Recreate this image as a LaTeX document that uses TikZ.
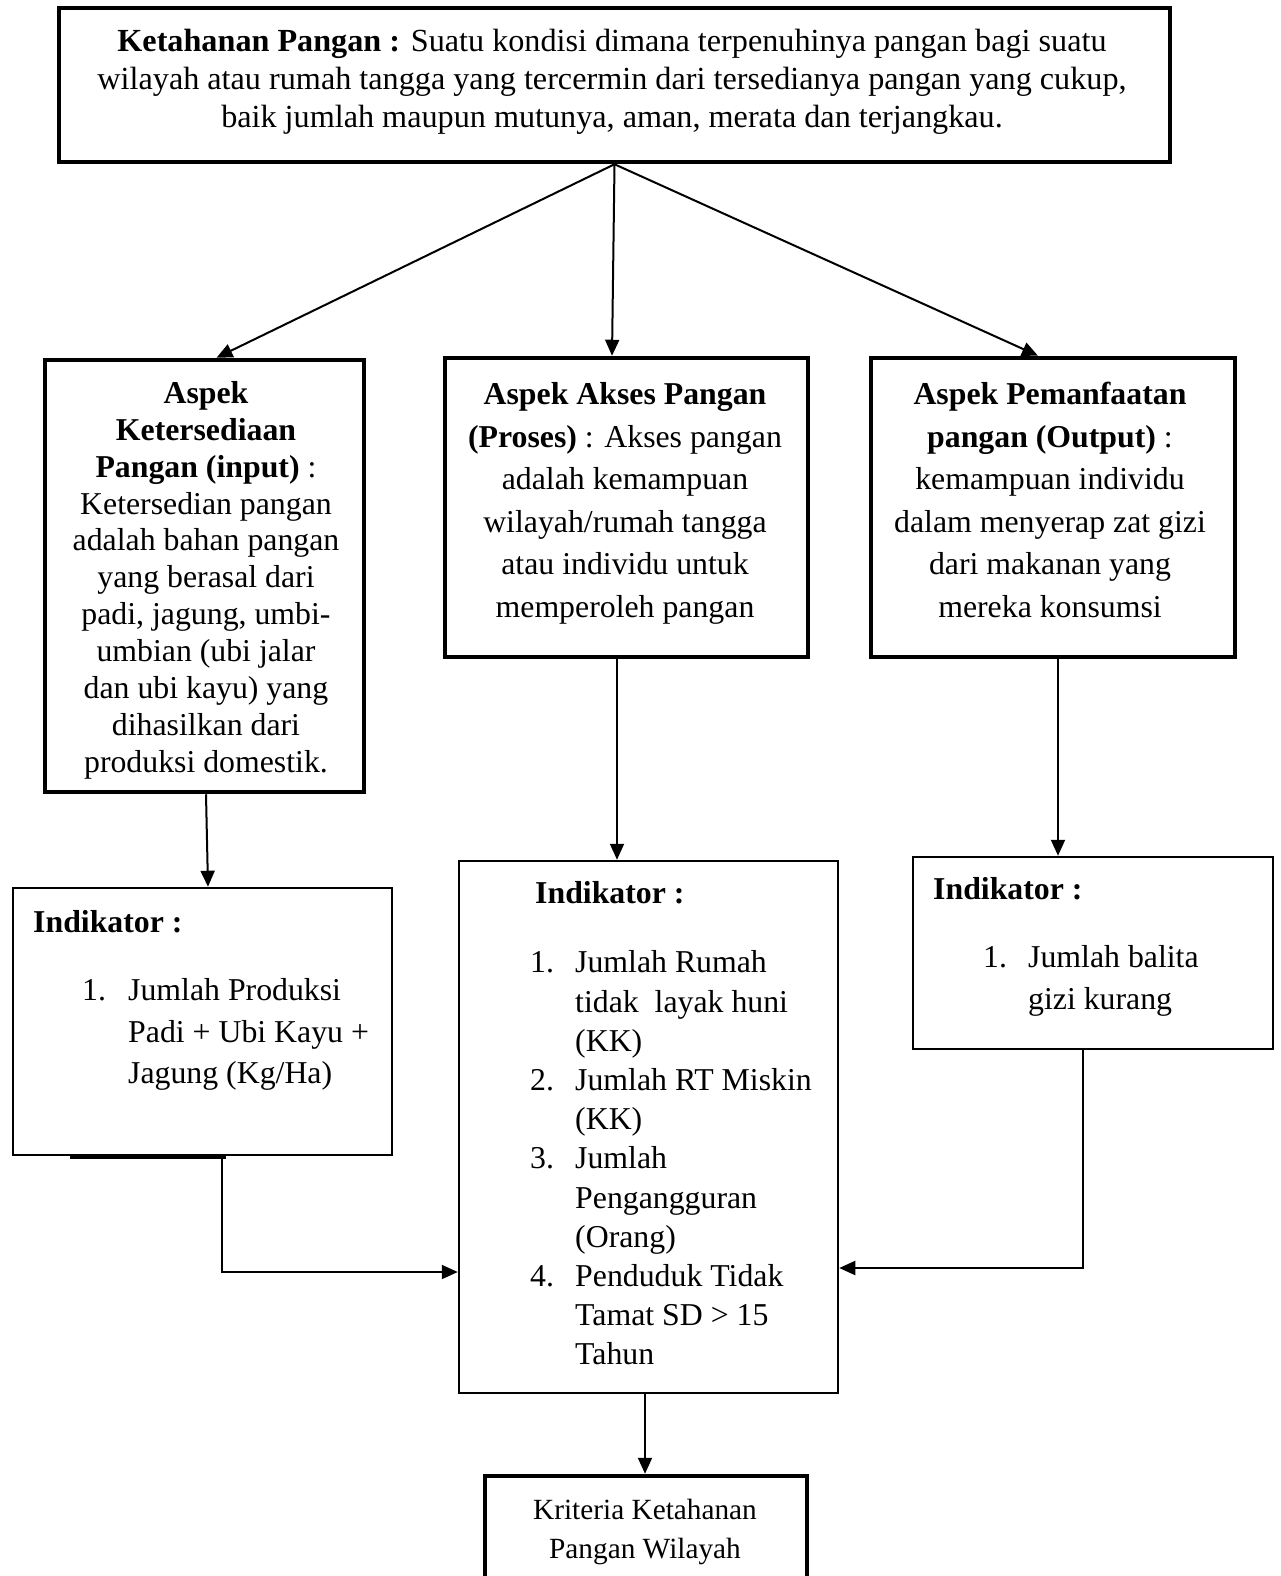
\documentclass[tikz,border=0pt]{standalone}
\usepackage{fontspec}
\setmainfont{Liberation Serif}
\usetikzlibrary{arrows.meta,calc}
\begin{document}
\begin{tikzpicture}[x=1pt,y=-1pt,
  thickbox/.style={draw,line width=4.5pt,rectangle,inner sep=0pt},
  thinbox/.style={draw,line width=2.5pt,rectangle,inner sep=0pt},
  txt/.style={inner sep=0pt,font=\fontsize{31.8}{37}\selectfont,align=center},
  lst/.style={inner sep=0pt,align=left,anchor=west},
  arr/.style={line width=2pt,-{Triangle[length=16pt,width=14pt]}}]
\path[use as bounding box] (0,0) rectangle (1280,1576);
\clip (0,0) rectangle (1280,1576);

% boxes
\node[thickbox,minimum width=1111pt,minimum height=154pt] (top) at (614.5,85) {};
\node[thickbox,minimum width=319pt,minimum height=432pt] (a1) at (204.5,576) {};
\node[thickbox,minimum width=363pt,minimum height=299pt] (a2) at (626.5,507.5) {};
\node[thickbox,minimum width=364pt,minimum height=299pt] (a3) at (1053,507.5) {};
\node[thinbox,minimum width=379pt,minimum height=267pt] (i1) at (202.5,1021.5) {};
\node[thinbox,minimum width=379pt,minimum height=532pt] (i2) at (648.5,1127) {};
\node[thinbox,minimum width=360pt,minimum height=192pt] (i3) at (1093,953) {};
\node[thickbox,minimum width=322pt,minimum height=144pt] (k) at (646,1548) {};

% texts
\node[txt,font=\fontsize{32.2}{38.2}\selectfont] (toptxt) at (612,82)
  {\strut\textbf{Ketahanan Pangan :} Suatu kondisi dimana terpenuhinya pangan bagi suatu\\
   wilayah atau rumah tangga yang tercermin dari tersedianya pangan yang cukup,\\
   baik jumlah maupun mutunya, aman, merata dan terjangkau.\strut};

\node[txt,font=\fontsize{31.8}{36.9}\selectfont] (a1txt) at (206,580.5)
  {\strut\textbf{Aspek}\\ \textbf{Ketersediaan}\\ \textbf{Pangan (input)} :\\
   Ketersedian pangan\\ adalah bahan pangan\\ yang berasal dari\\
   padi, jagung, umbi-\\ umbian (ubi jalar\\ dan ubi kayu) yang\\
   dihasilkan dari\\ produksi domestik.\strut};

\node[txt,font=\fontsize{31.8}{42.6}\selectfont] (a2txt) at (625,502.5)
  {\strut\textbf{Aspek Akses Pangan}\\ \textbf{(Proses)} : Akses pangan\\
   adalah kemampuan\\ wilayah/rumah tangga\\ atau individu untuk\\
   memperoleh pangan\strut};

\node[txt,font=\fontsize{31.8}{42.6}\selectfont] (a3txt) at (1050,502.5)
  {\strut\textbf{Aspek Pemanfaatan}\\ \textbf{pangan (Output)} :\\
   kemampuan individu\\ dalam menyerap zat gizi\\ dari makanan yang\\
   mereka konsumsi\strut};

\node[lst,font=\bfseries\fontsize{31.8}{37}\selectfont] (i1head) at (33,922) {Indikator :};
\node[lst,font=\fontsize{31.8}{41.5}\selectfont] (i1list) at (82,1034)
  {\strut\makebox[46pt][l]{1.}Jumlah Produksi\\
   \hspace*{46pt}Padi + Ubi Kayu +\\
   \hspace*{46pt}Jagung (Kg/Ha)\strut};

\node[lst,font=\bfseries\fontsize{31.8}{37}\selectfont] (i2head) at (535,892.5) {Indikator :};
\node[lst,font=\fontsize{31.8}{39.2}\selectfont] (i2list) at (530,1161)
  {\strut\makebox[45pt][l]{1.}Jumlah Rumah\\
   \hspace*{45pt}tidak\ \ layak huni\\
   \hspace*{45pt}(KK)\\
   \makebox[45pt][l]{2.}Jumlah RT Miskin\\
   \hspace*{45pt}(KK)\\
   \makebox[45pt][l]{3.}Jumlah\\
   \hspace*{45pt}Pengangguran\\
   \hspace*{45pt}(Orang)\\
   \makebox[45pt][l]{4.}Penduduk Tidak\\
   \hspace*{45pt}Tamat SD > 15\\
   \hspace*{45pt}Tahun\strut};

\node[lst,font=\bfseries\fontsize{31.8}{37}\selectfont] (i3head) at (933,888.5) {Indikator :};
\node[lst,font=\fontsize{31.8}{42}\selectfont] (i3list) at (983,980)
  {\strut\makebox[45pt][l]{1.}Jumlah balita\\
   \hspace*{45pt}gizi kurang\strut};

\node[txt,font=\fontsize{29.3}{39.2}\selectfont] (ktxt) at (645,1531)
  {\strut Kriteria Ketahanan\\ Pangan Wilayah\strut};

% connectors
\draw[arr] (top.south) -- ($(a1.north)+(12,0)$);
\draw[arr] (top.south) -- ($(a2.north)+(-14.5,0)$);
\draw[arr] (top.south) -- ($(a3.north)+(-15,0)$);
\draw[arr] ($(a1.south)+(1.5,0)$) -- ($(i1.north)+(5.5,0)$);
\draw[arr] ($(a2.south)+(-9.5,0)$) -- ($(i2.north)+(-31.5,0)$);
\draw[arr] ($(a3.south)+(5,0)$) -- ($(i3.north)+(-35,0)$);
\draw[arr] ($(i1.south)+(19.5,0)$) |- ($(i2.west)+(0,145)$);
\draw[arr] ($(i3.south)+(-10,0)$) |- ($(i2.east)+(0,141)$);
\draw[arr] ($(i2.south)+(-3.5,0)$) -- ($(k.north)+(-1,0)$);
\draw[line width=4pt] ($(i1.south west)+(58,1)$) -- ($(i1.south west)+(214,1)$);
\end{tikzpicture}
\end{document}
